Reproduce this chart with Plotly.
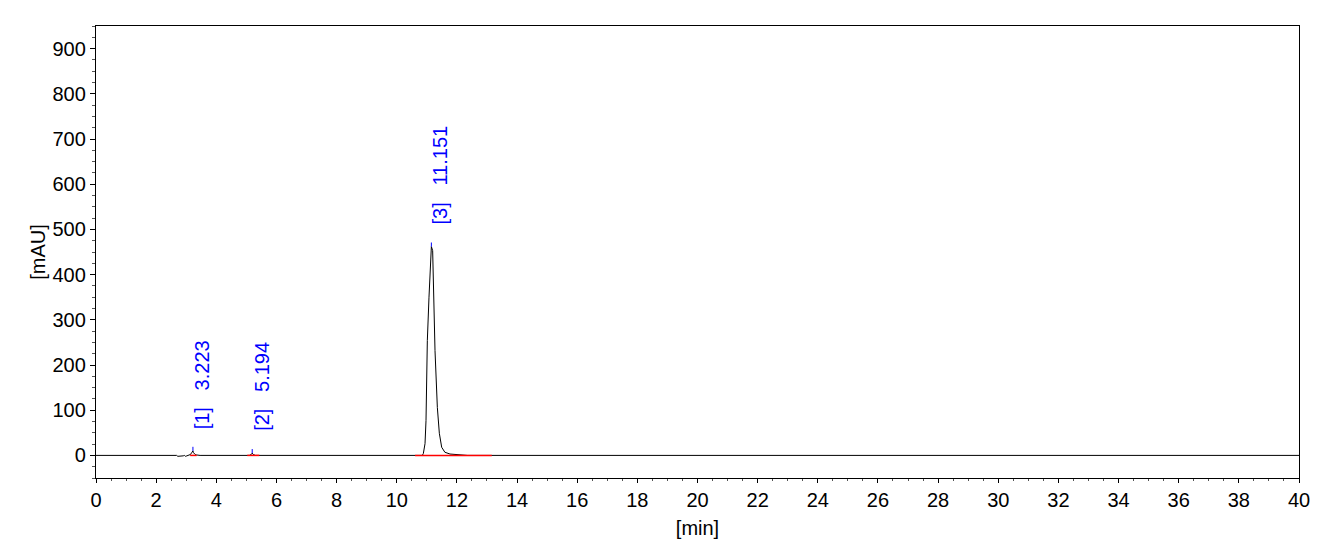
import plotly.graph_objects as go

# Chromatogram signal (time in min, signal in mAU)
time_min = [0.0, 2.68, 2.72, 2.76, 2.80, 2.85, 2.90, 2.94, 2.97, 3.02, 3.08, 3.14, 3.18, 3.21, 3.223,
            3.24, 3.27, 3.30, 3.34, 3.40, 3.46, 5.10, 5.16, 5.194, 5.23, 5.30,
            10.85, 10.884, 10.94, 10.973, 11.017, 11.072, 11.106, 11.151, 11.194, 11.228,
            11.272, 11.35, 11.416, 11.494, 11.60, 11.77, 12.0, 12.27, 12.35, 40.0]
signal_mau = [0.0, 0.0, -2.0, -2.0, -1.0, -2.0, -1.0, 0.0, -2.0, -1.0, 0.0, 2.0, 6.0, 9.0, 10.0,
              6.0, 3.0, 2.0, 1.0, 0.0, 0.0, 0.0, 2.0, 5.0, 2.0, 0.0,
              0.0, 4.0, 26.0, 77.0, 254.0, 350.0, 416.0, 462.0, 453.0, 350.0,
              232.0, 106.0, 49.0, 18.0, 7.0, 3.0, 2.0, 1.0, 0.0, 0.0]

# Peaks
peak_ids = ["1", "2", "3"]
peak_times = [3.223, 5.194, 11.151]
peak_heights = [10.0, 5.0, 462.0]
# Integration baselines (start, end)
base_start = [3.13, 5.03, 10.61]
base_end = [3.35, 5.43, 13.16]

# Axis ticks
x_ticks = list(range(0, 41, 2))
y_ticks = list(range(0, 901, 100))

fig = go.Figure()

fig.add_trace(go.Scatter(x=time_min, y=signal_mau, mode="lines",
                         line=dict(color="black", width=1), hoverinfo="skip", showlegend=False))

# red integration baselines
bx, by = [], []
for s, e in zip(base_start, base_end):
    bx += [s, e, None]
    by += [0, 0, None]
fig.add_trace(go.Scatter(x=bx, y=by, mode="lines", line=dict(color="red", width=1.5),
                         hoverinfo="skip", showlegend=False))

# blue apex markers
ax_, ay_ = [], []
for t, h in zip(peak_times, peak_heights):
    ax_ += [t, t, None]
    ay_ += [h, h + 9, None]
fig.add_trace(go.Scatter(x=ax_, y=ay_, mode="lines", line=dict(color="blue", width=1),
                         hoverinfo="skip", showlegend=False))

for pid, t, h in zip(peak_ids, peak_times, peak_heights):
    fig.add_annotation(x=t, y=h, xref="x", yref="y",
                       text=f"[{pid}]\u00a0\u00a0\u00a0{t:.3f}",
                       textangle=-90, showarrow=False,
                       xanchor="center", yanchor="bottom", xshift=9, yshift=20,
                       font=dict(family="Arial, Liberation Sans", size=20, color="#0000ff"))

font = dict(family="Arial, Liberation Sans", size=20, color="black")
fig.update_layout(
    width=1336, height=534,
    margin=dict(l=88, r=45, t=18, b=64, autoexpand=False),
    paper_bgcolor="white", plot_bgcolor="white",
    font=font,
    xaxis=dict(range=[0, 40], tickvals=x_ticks, ticktext=[str(v) for v in x_ticks],
               ticks="outside", ticklen=4, tickwidth=1, tickcolor="black",
               minor=dict(dtick=0.5, tick0=0, ticks="outside", ticklen=2, tickwidth=1, tickcolor="#555"),
               showline=True, linecolor="black", linewidth=1.3, mirror=True,
               showgrid=False, zeroline=False, automargin=False,
               title=dict(text="[min]", font=font, standoff=10)),
    yaxis=dict(range=[-50, 950], tickvals=y_ticks, ticktext=[str(v) for v in y_ticks],
               ticks="outside", ticklen=5, tickwidth=1, tickcolor="black",
               minor=dict(dtick=25, tick0=0, ticks="outside", ticklen=3, tickwidth=1, tickcolor="#555"),
               showline=True, linecolor="black", linewidth=1.3, mirror=True,
               showgrid=False, zeroline=False, automargin=False,
               title=dict(text="[mAU]", font=font, standoff=1)),
)

fig.write_html("out.html")
